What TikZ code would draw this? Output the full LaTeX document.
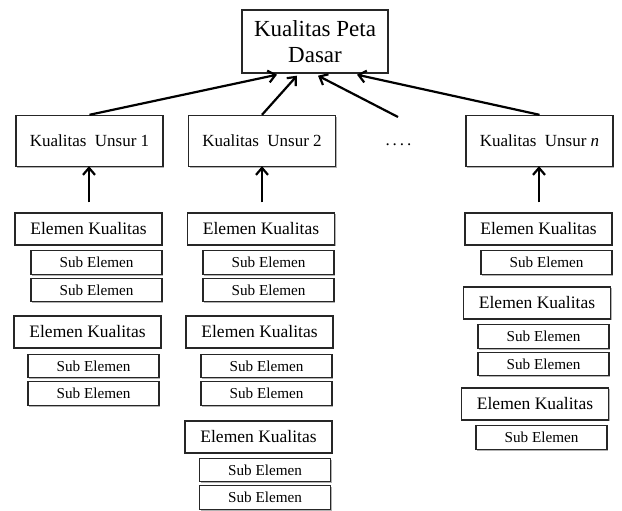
\documentclass[tikz,border=0pt]{standalone}
\usepackage{fontspec}
\setmainfont{Liberation Serif}
\usetikzlibrary{arrows.meta,shadows}
\begin{document}
\begin{tikzpicture}[x=1pt,y=-1pt,
  bx/.style={draw=black!85,line width=1.4pt,fill=white,inner sep=0pt,
    drop shadow={shadow xshift=1.3pt,shadow yshift=-1.3pt,opacity=0.3,fill=black}},
  titlebox/.style={bx,minimum width=146pt,minimum height=63pt,align=center,
    font=\fontsize{23}{26}\selectfont},
  unsur/.style={bx,minimum width=147pt,minimum height=51pt,font=\fontsize{17}{20}\selectfont},
  elem/.style={bx,minimum width=147pt,minimum height=32pt,font=\fontsize{17.5}{20}\selectfont},
  sub/.style={bx,minimum width=131pt,minimum height=23.5pt,font=\fontsize{15.2}{18}\selectfont},
  arr/.style={line width=2.2pt,-{Straight Barb[length=7pt,width=12pt,line width=2.2pt]}}
]
\useasboundingbox (0,0) rectangle (622,511);

\node[titlebox] (T) at (315,41.5) {Kualitas Peta\\Dasar};

\node[unsur] (U1) at (89.5,141) {Kualitas\ \ Unsur 1};
\node[unsur] (U2) at (262,141) {Kualitas\ \ Unsur 2};
\node[unsur] (Un) at (539.5,141) {Kualitas\ \ Unsur \textit{n}};
\node[font=\fontsize{17}{20}\selectfont,inner sep=0pt,anchor=base] (D) at (398.5,146) {.\hspace{3pt}.\hspace{3pt}.\hspace{3pt}.};
\coordinate (dtop) at (398,117);

% column 1
\node[elem] (E11) at (88.5,229) {Elemen Kualitas};
\node[sub] (S111) at (96.5,262.5) {Sub Elemen};
\node[sub] (S112) at (96.5,290) {Sub Elemen};
\node[elem] (E12) at (87.5,332) {Elemen Kualitas};
\node[sub] (S121) at (93.5,366) {Sub Elemen};
\node[sub] (S122) at (93.5,393.5) {Sub Elemen};

% column 2
\node[elem] (E21) at (261,229) {Elemen Kualitas};
\node[sub] (S211) at (268.5,262.5) {Sub Elemen};
\node[sub] (S212) at (268.5,290) {Sub Elemen};
\node[elem] (E22) at (259.5,332) {Elemen Kualitas};
\node[sub] (S221) at (266.5,366) {Sub Elemen};
\node[sub] (S222) at (266.5,393.5) {Sub Elemen};
\node[elem] (E23) at (258.5,437) {Elemen Kualitas};
\node[sub] (S231) at (265,470) {Sub Elemen};
\node[sub] (S232) at (265,497.5) {Sub Elemen};

% column n
\node[elem] (En1) at (538.5,229) {Elemen Kualitas};
\node[sub] (Sn11) at (546.5,262.5) {Sub Elemen};
\node[elem] (En2) at (537,303) {Elemen Kualitas};
\node[sub] (Sn21) at (543.5,336.5) {Sub Elemen};
\node[sub] (Sn22) at (543.5,364) {Sub Elemen};
\node[elem] (En3) at (535,404) {Elemen Kualitas};
\node[sub] (Sn31) at (541.5,437.5) {Sub Elemen};

% arrows to top
\draw[arr] (U1.north) -- ([xshift=-38pt,yshift=-1pt]T.south);
\draw[arr] (U2.north) -- ([xshift=-18pt,yshift=-2pt]T.south);
\draw[arr] (dtop) -- ([xshift=3pt,yshift=-2pt]T.south);
\draw[arr] (Un.north) -- ([xshift=42pt,yshift=-1pt]T.south);

% vertical arrows
\draw[arr,shorten <=10pt] ([xshift=0.5pt]E11.north) -- ([xshift=-0.5pt,yshift=1pt]U1.south);
\draw[arr,shorten <=10pt] ([xshift=1pt]E21.north) -- ([yshift=1pt]U2.south);
\draw[arr,shorten <=10pt] ([xshift=0.5pt]En1.north) -- ([xshift=-0.5pt,yshift=1pt]Un.south);
\end{tikzpicture}
\end{document}
